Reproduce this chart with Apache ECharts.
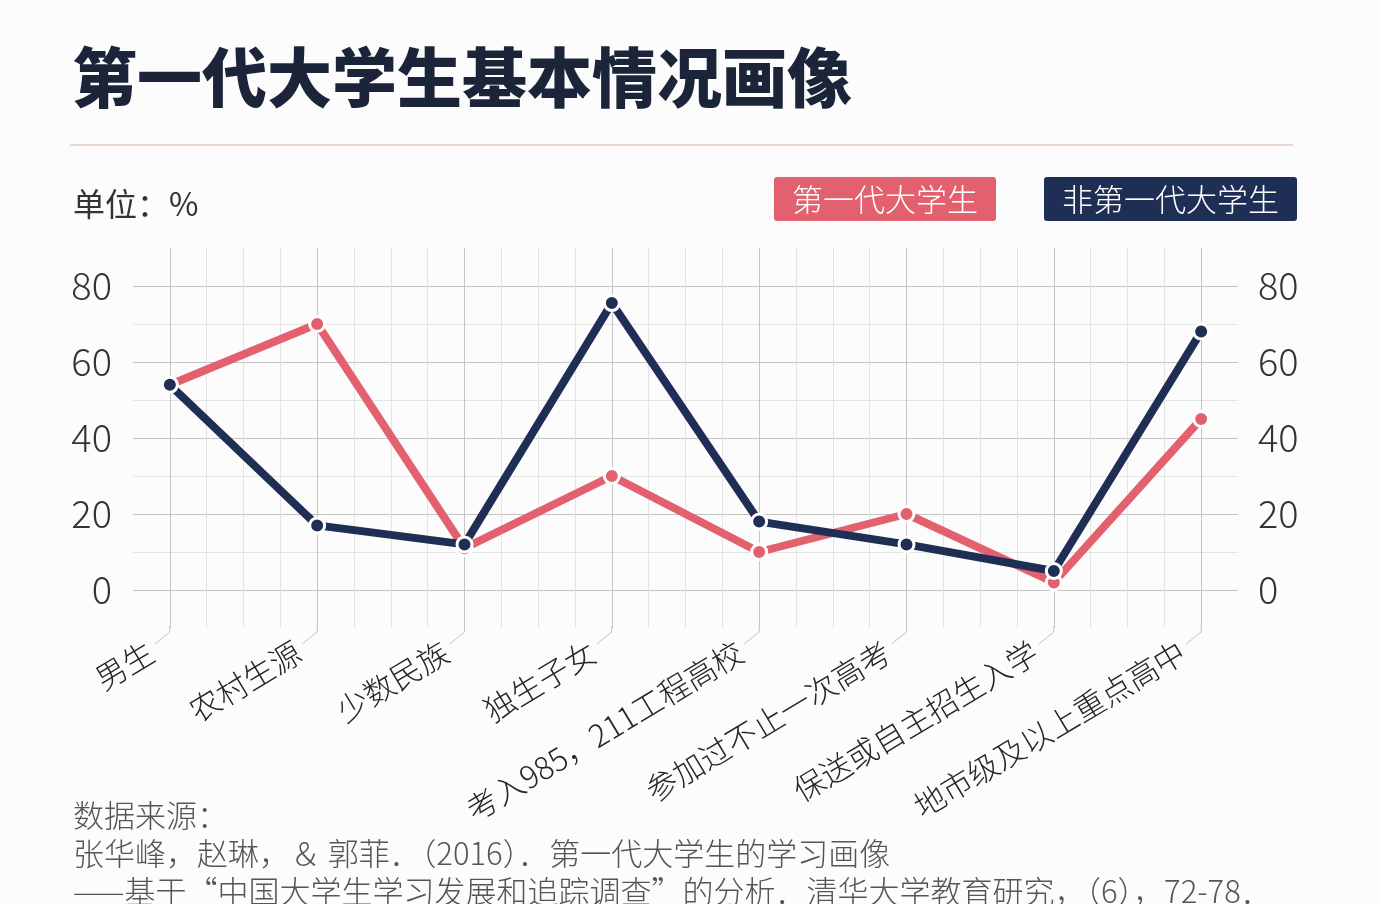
<!DOCTYPE html>
<html>
<head>
<meta charset="utf-8">
<script src="https://cdn.jsdelivr.net/npm/echarts@6/dist/echarts.min.js"></script>
<style>
html,body{margin:0;padding:0;background:#fcfcfc;}
#c{width:1380px;height:904px;}
</style>
</head>
<body>
<div id="c"></div>
<script>
const categories = ['男生','农村生源','少数民族','独生子女','考入985，211工程高校','参加过不止一次高考','保送或自主招生入学','地市级及以上重点高中'];
const firstGen = [54, 70, 11, 30, 10, 20, 2, 45];
const nonFirstGen = [54, 17, 12, 75.5, 18, 12, 5, 68];
const seriesNames = ['第一代大学生','非第一代大学生'];
const yTicks = [0, 20, 40, 60, 80];

const PINK = '#E3616F';
const NAVY = '#1F2E54';
const MAJOR = '#c4c4c4';
const MINOR = '#e4e4e4';
const NONE = 'rgba(0,0,0,0)';
const CJK = '"Noto Sans CJK SC", "Noto Sans", sans-serif';

// split line colours: x ticks every 0.25 from -0.25 to 7.25 (31 ticks)
const xLineColors = [];
for (let i = 0; i <= 30; i++) {
  xLineColors.push(i === 0 || i === 30 ? NONE : ((i - 1) % 4 === 0 ? MAJOR : MINOR));
}
// y ticks every 10 from -10 to 90 (11 ticks)
const yLineColors = [];
for (let i = 0; i <= 10; i++) {
  yLineColors.push(i === 0 || i === 10 ? NONE : (i % 2 === 1 ? MAJOR : MINOR));
}

const chart = echarts.init(document.getElementById('c'));
const yLabelFmt = v => (yTicks.indexOf(v) >= 0 ? String(v) : '');

chart.setOption({
  backgroundColor: '#fcfcfc',
  animation: false,
  title: [
    {
      text: '第一代大学生基本情况画像',
      left: 67, top: 40,
      textStyle: {fontFamily: CJK, fontSize: 65, fontWeight: 900, color: '#1B2438'}
    },
    {
      text: '单位：%',
      left: 68, top: 183,
      textStyle: {fontFamily: CJK, fontSize: 32, fontWeight: 'normal', color: '#333'}
    },
    {
      text: '数据来源：\n张华峰，赵琳，＆ 郭菲．（2016）．第一代大学生的学习画像\n——基于“中国大学生学习发展和追踪调查”的分析．清华大学教育研究，（6），72-78．',
      left: 68, top: 791,
      textStyle: {fontFamily: CJK, fontSize: 31, fontWeight: 300, color: '#555', lineHeight: 38}
    }
  ],
  graphic: [
    {type: 'line', shape: {x1: 70, y1: 145, x2: 1293, y2: 145}, style: {stroke: '#ead8ce', lineWidth: 2}}
  ],
  legend: {
    right: 78, top: 172,
    icon: 'none', itemWidth: 0, itemHeight: 44, itemGap: 43,
    selectedMode: false,
    data: [
      {name: seriesNames[0], textStyle: {backgroundColor: PINK, color: '#fff', padding: [6, 18], borderRadius: 3, fontSize: 31, lineHeight: 32, fontFamily: CJK, fontWeight: 300}},
      {name: seriesNames[1], textStyle: {backgroundColor: NAVY, color: '#fff', padding: [6, 18], borderRadius: 3, fontSize: 31, lineHeight: 32, fontFamily: CJK, fontWeight: 300}}
    ]
  },
  grid: {left: 133, right: 142, top: 248, bottom: 276},
  xAxis: {
    type: 'value', min: -0.25, max: 7.25, interval: 0.25,
    axisLine: {show: false}, axisTick: {show: false},
    splitLine: {show: true, lineStyle: {color: xLineColors, width: 1}},
    axisLabel: {
      rotate: 31, margin: 10, padding: [0, 22, 0, 0],
      fontFamily: CJK, fontSize: 31, fontWeight: 300, color: '#262626',
      formatter: v => (Number.isInteger(v) && v >= 0 && v < categories.length ? categories[v] : '')
    }
  },
  yAxis: [
    {
      type: 'value', min: -10, max: 90, interval: 10, position: 'left',
      axisLine: {show: false}, axisTick: {show: false},
      splitLine: {show: true, lineStyle: {color: yLineColors, width: 1}},
      axisLabel: {margin: 21, fontFamily: CJK, fontSize: 38, fontWeight: 300, color: '#333', formatter: yLabelFmt}
    },
    {
      type: 'value', min: -10, max: 90, interval: 10, position: 'right',
      axisLine: {show: false}, axisTick: {show: false}, splitLine: {show: false},
      axisLabel: {margin: 20, fontFamily: CJK, fontSize: 38, fontWeight: 300, color: '#333', formatter: yLabelFmt}
    }
  ],
  series: [
    {
      type: 'custom', silent: true, clip: false, z: 1,
      data: categories.map((c, i) => [i, -10]),
      renderItem: (params, api) => {
        const p = api.coord([api.value(0), api.value(1)]);
        return {
          type: 'polyline',
          shape: {points: [[p[0], p[1] - 2], [p[0], p[1] + 4], [p[0] - 15, p[1] + 16]]},
          style: {stroke: MAJOR, lineWidth: 1, fill: null}
        };
      }
    },
    {
      name: seriesNames[0], type: 'line', z: 3,
      data: firstGen.map((v, i) => [i, v]),
      lineStyle: {color: PINK, width: 8},
      itemStyle: {color: PINK, borderColor: '#fff', borderWidth: 3},
      symbol: 'circle', symbolSize: 15, showAllSymbol: true
    },
    {
      name: seriesNames[1], type: 'line', z: 4,
      data: nonFirstGen.map((v, i) => [i, v]),
      lineStyle: {color: NAVY, width: 8},
      itemStyle: {color: NAVY, borderColor: '#fff', borderWidth: 3},
      symbol: 'circle', symbolSize: 15, showAllSymbol: true
    }
  ]
});
</script>
</body>
</html>
